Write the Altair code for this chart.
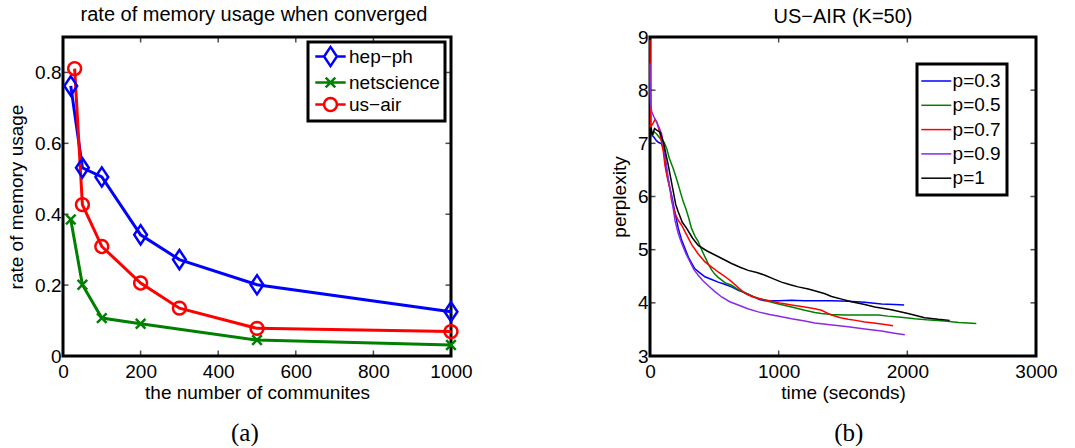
import math
import altair as alt
import pandas as pd

# ---------------- data: panel (a) ----------------
hep_n = [20, 50, 100, 200, 300, 500, 1000]
hep_rate = [0.762, 0.531, 0.505, 0.342, 0.272, 0.201, 0.125]
net_n = [20, 50, 100, 200, 500, 1000]
net_rate = [0.385, 0.201, 0.107, 0.091, 0.045, 0.031]
air_n = [30, 50, 100, 200, 300, 500, 1000]
air_rate = [0.811, 0.427, 0.309, 0.206, 0.135, 0.078, 0.069]
datasets = ["hep\u2212ph", "netscience", "us\u2212air"]
xa_dom = [0, 1000]
ya_dom = [0, 0.9]
xa_vals = [0, 200, 400, 600, 800, 1000]
ya_vals = [0, 0.2, 0.4, 0.6, 0.8]

# ---------------- data: panel (b) ----------------
p_labels = ["p=0.3", "p=0.5", "p=0.7", "p=0.9", "p=1"]
t_03 = [0, 15, 30, 50, 65, 90, 110, 129, 150, 168, 190, 207, 220, 246, 272, 300, 330, 349, 390, 427,
        480, 530, 580, 634, 690, 738, 800, 850, 893, 1000, 1100, 1200, 1300, 1411, 1540, 1669, 1799, 1900, 1975]
v_03 = [7.25, 7.15, 7.12, 7.05, 7.02, 6.99, 6.85, 6.46, 6.2, 6.02, 5.75, 5.55, 5.40, 5.18, 5.02, 4.85, 4.72, 4.64, 4.56, 4.49,
        4.44, 4.39, 4.35, 4.30, 4.23, 4.19, 4.12, 4.06, 4.04, 4.04, 4.05, 4.04, 4.04, 4.04, 4.03, 4.01, 3.98, 3.97, 3.96]
t_05 = [0, 15, 30, 50, 70, 90, 110, 130, 150, 181, 200, 220, 240, 259, 280, 298, 323, 350, 375, 401, 430, 455, 479,
        500, 530, 582, 634, 686, 737, 800, 867, 930, 1000, 1100, 1203, 1281, 1332, 1411, 1513, 1600, 1700, 1772,
        1850, 1950, 2058, 2150, 2290, 2400, 2536]
v_05 = [7.35, 7.15, 7.22, 7.18, 7.12, 7.06, 7.02, 6.9, 6.72, 6.52, 6.38, 6.22, 6.05, 5.90, 5.76, 5.62, 5.40, 5.25, 5.15, 5.0, 4.85, 4.72, 4.62,
        4.55, 4.48, 4.38, 4.33, 4.25, 4.19, 4.12, 4.07, 4.02, 3.98, 3.92, 3.86, 3.82, 3.80, 3.78, 3.77, 3.77, 3.77, 3.77,
        3.75, 3.73, 3.70, 3.68, 3.66, 3.63, 3.61]
t_07 = [0, 3, 6, 13, 25, 39, 52, 65, 80, 90, 103, 116, 135, 155, 168, 194, 220, 246, 285, 323, 375, 427, 480, 530,
        580, 634, 690, 738, 790, 841, 930, 1022, 1100, 1203, 1281, 1333, 1411, 1480, 1540, 1600, 1669, 1740, 1799, 1889]
v_07 = [8.95, 8.0, 7.3, 7.34, 7.38, 7.45, 7.40, 7.30, 7.15, 7.02, 6.85, 6.59, 6.35, 6.15, 5.92, 5.68, 5.55, 5.46, 5.28, 5.10, 4.92, 4.77, 4.67, 4.58,
        4.50, 4.40, 4.28, 4.18, 4.12, 4.08, 4.04, 3.99, 3.96, 3.92, 3.89, 3.86, 3.77, 3.72, 3.69, 3.67, 3.64, 3.62, 3.60, 3.57]
t_09 = [0, 3, 6, 13, 30, 52, 70, 90, 110, 142, 170, 194, 220, 246, 280, 311, 340, 375, 410, 453, 500, 557, 620, 686,
        760, 841, 930, 1022, 1100, 1203, 1281, 1400, 1540, 1669, 1799, 1900, 1980]
v_09 = [8.5, 7.9, 7.72, 7.60, 7.50, 7.40, 7.30, 7.18, 6.9, 6.34, 5.95, 5.55, 5.30, 5.12, 4.92, 4.77, 4.63, 4.52, 4.42, 4.32, 4.22, 4.11, 4.02, 3.96,
        3.89, 3.83, 3.78, 3.74, 3.70, 3.66, 3.62, 3.59, 3.55, 3.51, 3.47, 3.43, 3.40]
t_10 = [0, 8, 20, 35, 52, 78, 103, 142, 181, 200, 220, 250, 285, 330, 375, 440, 505, 570, 634, 700, 763, 830, 893,
        960, 1022, 1090, 1151, 1230, 1307, 1360, 1411, 1490, 1566, 1669, 1747, 1876, 2005, 2135, 2240, 2329]
v_10 = [7.05, 7.3, 7.15, 7.28, 7.25, 7.21, 7.03, 6.59, 6.09, 5.85, 5.71, 5.52, 5.40, 5.22, 5.08, 4.98, 4.90, 4.82, 4.74, 4.67, 4.61, 4.57, 4.52,
        4.45, 4.39, 4.34, 4.30, 4.26, 4.21, 4.17, 4.12, 4.07, 4.02, 3.97, 3.92, 3.87, 3.80, 3.72, 3.69, 3.67]
xb_dom = [0, 3000]
yb_dom = [3, 9]
xb_vals = [0, 1000, 2000, 3000]
yb_vals = [3, 4, 5, 6, 7, 8, 9]

SANS = "Liberation Sans"
SERIF = "Liberation Serif"
FS = 19
TFS = 20

# ---------------- tables ----------------
rows_a = []
for name, xs, ys in zip(datasets, [hep_n, net_n, air_n], [hep_rate, net_rate, air_rate]):
    for x, y in zip(xs, ys):
        rows_a.append({"n": x, "rate": y, "dataset": name, "ds": name})
df_a = pd.DataFrame(rows_a)

rows_b = []
for lab, ts, vs in zip(p_labels, [t_03, t_05, t_07, t_09, t_10], [v_03, v_05, v_07, v_09, v_10]):
    for t, v in zip(ts, vs):
        rows_b.append({"t": t, "perp": v, "p": lab})
df_b = pd.DataFrame(rows_b)

# ---------------- marker paths ----------------
def circle_path(r, n=24, ext=None):
    pts = [(r * math.cos(2 * math.pi * k / n), r * math.sin(2 * math.pi * k / n)) for k in range(n)]
    s = "M" + "L".join(f"{x:.3f},{y:.3f}" for x, y in pts) + "Z"
    if ext:
        s = f"M{-ext},0L{-r},0M{r},0L{ext},0" + s
    return s

DIAMOND = "M0,-1.2L0.8,0L0,1.2L-0.8,0Z"
XMARK = "M-0.6,-0.6L0.6,0.6M-0.6,0.6L0.6,-0.6"
CIRCLE = circle_path(0.8)
EXT = 1.9
DIAMOND_L = f"M{-EXT},0L-0.8,0M0.8,0L{EXT},0" + DIAMOND
XMARK_L = f"M{-EXT},0L{EXT},0" + XMARK
CIRCLE_L = circle_path(0.8, ext=EXT)
HLINE = "M-1.5,0L1.5,0"

colors_a = ["#0000ff", "#008000", "#ff0000"]
colors_b = ["#0000ff", "#008000", "#ff0000", "#8a2be2", "#000000"]


def axis_main(values, fmt="d", title=None, orient="bottom", pad=6, tpad=2):
    return alt.Axis(values=values, orient=orient, title=title, format=fmt, grid=False, domain=False,
                    ticks=False, labelFlush=False,
                    labelFont=SANS, labelFontSize=FS, labelColor="black", labelPadding=pad,
                    titleFont=SANS, titleFontSize=FS, titleFontWeight="normal", titleColor="black",
                    titlePadding=tpad)


def frame_layers(xdom, ydom, xvals, yvals, xsc, ysc, xax, yax):
    """Box around the plot area plus inward tick marks on all four sides."""
    box = alt.Chart(pd.DataFrame({"x0": [xdom[0]], "x1": [xdom[1]], "y0": [ydom[0]], "y1": [ydom[1]]})).mark_rect(
        fill="transparent", stroke="black", strokeWidth=3).encode(
        x=alt.X("x0:Q", scale=xsc, axis=xax), x2="x1:Q",
        y=alt.Y("y0:Q", scale=ysc, axis=yax), y2="y1:Q")
    tk = dict(color="black", size=5, thickness=1.5)
    layers = [box]
    for edge, off in [(ydom[0], -3), (ydom[1], 3)]:
        d = pd.DataFrame({"tv": xvals, "te": [edge] * len(xvals)})
        layers.append(alt.Chart(d).mark_tick(orient="vertical", yOffset=off, **tk).encode(
            x=alt.X("tv:Q", scale=xsc, axis=xax), y=alt.Y("te:Q", scale=ysc, axis=yax)))
    for edge, off in [(xdom[0], 3), (xdom[1], -3)]:
        d = pd.DataFrame({"tv": yvals, "te": [edge] * len(yvals)})
        layers.append(alt.Chart(d).mark_tick(orient="horizontal", xOffset=off, **tk).encode(
            y=alt.Y("tv:Q", scale=ysc, axis=yax), x=alt.X("te:Q", scale=xsc, axis=xax)))
    return layers

# ---------------- panel (a) ----------------
xsc_a = alt.Scale(domain=xa_dom, nice=False)
ysc_a = alt.Scale(domain=ya_dom, nice=False)
csc_a = alt.Scale(domain=datasets, range=colors_a)
ax_xa = axis_main(xa_vals, title="the number of communites")
ax_ya = axis_main(ya_vals, fmt=".1~f", title="rate of memory usage", orient="left", pad=2, tpad=8)

leg_a = alt.Legend(
    title=None, orient="none", legendX=245, legendY=5,
    labelFont=SANS, labelFontSize=FS, labelColor="black",
    symbolSize=256, symbolStrokeWidth=2.5, symbolOffset=8, labelOffset=9, symbolOpacity=1,
    rowPadding=0, padding=5, strokeColor="black", fillColor="white",
)

base_a = alt.Chart(df_a)
lines_a = base_a.mark_line(strokeWidth=3).encode(
    x=alt.X("n:Q", scale=xsc_a, axis=ax_xa),
    y=alt.Y("rate:Q", scale=ysc_a, axis=ax_ya),
    color=alt.Color("dataset:N", scale=csc_a, legend=None),
)
points_a = base_a.mark_point(filled=False, strokeWidth=2.5, size=256, opacity=1).encode(
    x=alt.X("n:Q", scale=xsc_a, axis=ax_xa),
    y=alt.Y("rate:Q", scale=ysc_a, axis=ax_ya),
    color=alt.Color("dataset:N", scale=csc_a, legend=None),
    shape=alt.Shape("dataset:N", scale=alt.Scale(domain=datasets, range=[DIAMOND, XMARK, CIRCLE]), legend=None),
)
legend_a = base_a.mark_point(filled=False, strokeWidth=2.5, size=256, opacity=0).encode(
    x=alt.X("n:Q", scale=xsc_a, axis=ax_xa),
    y=alt.Y("rate:Q", scale=ysc_a, axis=ax_ya),
    color=alt.Color("ds:N", scale=csc_a, legend=leg_a),
    shape=alt.Shape("ds:N", scale=alt.Scale(domain=datasets, range=[DIAMOND_L, XMARK_L, CIRCLE_L]), legend=leg_a),
)
chart_a = alt.layer(
    *frame_layers(xa_dom, ya_dom, xa_vals, ya_vals, xsc_a, ysc_a, ax_xa, ax_ya), lines_a, points_a, legend_a
).resolve_scale(shape="independent", color="independent").properties(
    width=388, height=319,
    title=alt.TitleParams("rate of memory usage when converged", font=SANS, fontSize=TFS,
                          fontWeight="normal", color="black", frame="group", anchor="middle",
                          offset=11, dx=-3),
)
panel_a = alt.hconcat(chart_a, title=alt.TitleParams("(a)", orient="bottom", font=SERIF, fontSize=25,
                                                      fontWeight="normal", color="black", offset=19,
                                                      anchor="middle", dx=5))

# ---------------- panel (b) ----------------
xsc_b = alt.Scale(domain=xb_dom, nice=False)
ysc_b = alt.Scale(domain=yb_dom, nice=False)
csc_b = alt.Scale(domain=p_labels, range=colors_b)
ax_xb = axis_main(xb_vals, title="time (seconds)")
ax_yb = axis_main(yb_vals, title="perplexity", orient="left", pad=2, tpad=8)

leg_b = alt.Legend(
    title=None, orient="none", legendX=267, legendY=27,
    labelFont=SANS, labelFontSize=FS, labelColor="black",
    symbolType=HLINE, symbolSize=400, symbolStrokeWidth=1.5, symbolOffset=2.3, labelOffset=5.3,
    rowPadding=3.3, padding=6, strokeColor="black", fillColor="white",
)

lines_b = alt.Chart(df_b).mark_line(strokeWidth=1.5).encode(
    x=alt.X("t:Q", scale=xsc_b, axis=ax_xb),
    y=alt.Y("perp:Q", scale=ysc_b, axis=ax_yb),
    color=alt.Color("p:N", scale=csc_b, legend=leg_b),
    order=alt.Order("t:Q"),
)
chart_b = alt.layer(
    *frame_layers(xb_dom, yb_dom, xb_vals, yb_vals, xsc_b, ysc_b, ax_xb, ax_yb), lines_b
).properties(
    width=386, height=319,
    title=alt.TitleParams("US\u2212AIR (K=50)", font=SANS, fontSize=TFS, fontWeight="normal",
                          color="black", frame="group", anchor="middle", offset=11, dy=10),
)
panel_b = alt.hconcat(chart_b, title=alt.TitleParams("(b)", orient="bottom", font=SERIF, fontSize=25,
                                                      fontWeight="normal", color="black", offset=19,
                                                      anchor="middle", dx=15))

chart = alt.hconcat(panel_a, panel_b, spacing=137).resolve_scale(
    color="independent", shape="independent"
).properties(
    padding={"left": 7, "top": 4, "right": 0, "bottom": 0},
    background="white",
).configure_view(strokeWidth=0).configure_legend(strokeWidth=3)

chart.save("out.html", embed_options={"renderer": "svg", "actions": False})
